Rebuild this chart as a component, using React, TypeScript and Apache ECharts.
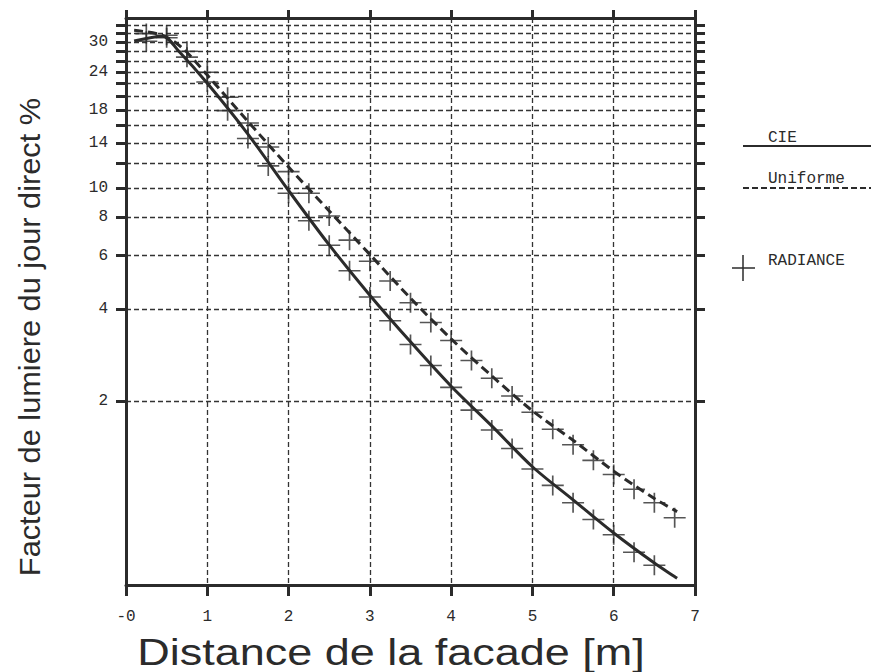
import React, { useEffect, useRef } from "react";
import * as echarts from "echarts";

// ---- data ----
const xTicks = [0, 1, 2, 3, 4, 5, 6, 7];
const yTickValues = [2, 4, 6, 8, 10, 12, 14, 16, 18, 20, 22, 24, 26, 28, 30, 32, 34];
const yLabelValues = [2, 4, 6, 8, 10, 14, 18, 24, 30];
const Y_MIN = 0.5;
const Y_MAX = 36;

// CIE sky (solid line)
const cieX = [0.1, 0.45, 0.65, 1.0, 1.5, 2.0, 2.5, 3.0, 3.5, 4.0, 4.5, 5.0, 5.5, 6.0, 6.5, 6.78];
const cieY = [30.3, 31.4, 28.0, 22.0, 15.0, 9.8, 6.5, 4.45, 3.13, 2.24, 1.66, 1.22, 0.95, 0.74, 0.59, 0.526];

// Uniform sky (dashed line)
const uniX = [0.1, 0.45, 0.7, 1.0, 1.5, 2.0, 2.5, 3.0, 3.5, 4.0, 4.5, 5.0, 5.5, 6.0, 6.5, 6.78];
const uniY = [32.8, 31.6, 28.6, 23.4, 16.5, 11.7, 8.4, 6.05, 4.35, 3.2, 2.42, 1.86, 1.49, 1.18, 0.96, 0.87];

// RADIANCE simulations (crosses)
const radX = [0.25, 0.5, 0.75, 1, 1.25, 1.5, 1.75, 2, 2.25, 2.5, 2.75, 3, 3.25, 3.5, 3.75, 4, 4.25, 4.5, 4.75, 5, 5.25, 5.5, 5.75, 6, 6.25, 6.5, 6.75];
const radCie = [30.2, 31.0, 26.8, 22.2, 17.9, 14.5, 11.8, 9.6, 7.8, 6.49, 5.35, 4.39, 3.67, 3.07, 2.62, 2.22, 1.87, 1.61, 1.4, 1.2, 1.06, 0.93, 0.82, 0.73, 0.64, 0.58];
const radUni = [32.0, 31.6, 28.0, 23.9, 19.8, 16.3, 13.6, 11.3, 9.6, 8.08, 6.74, 5.75, 4.95, 4.2, 3.62, 3.16, 2.72, 2.38, 2.08, 1.84, 1.62, 1.44, 1.28, 1.15, 1.03, 0.93, 0.83];

const INK = "#2b2b2b";
const MONO = "'Liberation Mono', 'DejaVu Sans Mono', monospace";
const SANS = "'Liberation Sans', Arial, sans-serif";
const L = (v: number) => Math.log10(v);
const CROSS = "path://M10,0 L10,20 M0,10 L20,10";

export default function App() {
  const ref = useRef<HTMLDivElement>(null);

  useEffect(() => {
    if (!ref.current) return;
    const chart = echarts.init(ref.current, null, { renderer: "svg" });

    const frameLine = { show: true, onZero: false, lineStyle: { color: INK, width: 3 } };
    const yTick = {
      show: true,
      customValues: yTickValues.map(L),
      length: 10,
      lineStyle: { color: INK, width: 3 },
    };
    const gridDash = { show: true, lineStyle: { color: "#333", width: 1.3, type: [5, 3] as any } };

    const option: any = {
      animation: false,
      backgroundColor: "#ffffff",
      grid: { left: 126, right: 176, top: 18, bottom: 87, containLabel: false },
      xAxis: [
        {
          type: "value",
          min: xTicks[0],
          max: xTicks[xTicks.length - 1],
          interval: 1,
          position: "bottom",
          axisLine: frameLine,
          axisTick: { show: true, length: 11, lineStyle: { color: INK, width: 3 } },
          axisLabel: {
            formatter: (v: number) => (v === 0 ? "-0" : String(v)),
            margin: 24,
            fontFamily: MONO,
            fontSize: 16,
            color: INK,
          },
          splitLine: gridDash,
        },
        {
          type: "value",
          min: xTicks[0],
          max: xTicks[xTicks.length - 1],
          interval: 1,
          position: "top",
          axisLine: frameLine,
          axisTick: { show: true, length: 8, lineStyle: { color: INK, width: 3 } },
          axisLabel: { show: false },
          splitLine: { show: false },
        },
      ],
      yAxis: [
        {
          type: "value",
          min: L(Y_MIN),
          max: L(Y_MAX),
          position: "left",
          axisLine: frameLine,
          axisTick: yTick,
          axisLabel: {
            customValues: yLabelValues.map(L),
            formatter: (v: number) => String(Math.round(Math.pow(10, v))),
            margin: 18,
            fontFamily: MONO,
            fontSize: 16,
            color: INK,
          },
          splitLine: gridDash,
        },
        {
          type: "value",
          min: L(Y_MIN),
          max: L(Y_MAX),
          position: "right",
          axisLine: frameLine,
          axisTick: yTick,
          axisLabel: { show: false },
          splitLine: { show: false },
        },
      ],
      series: [
        {
          name: "CIE",
          type: "line",
          data: cieX.map((x, i) => [x, L(cieY[i])]),
          smooth: 0.3,
          symbol: "none",
          lineStyle: { color: INK, width: 3 },
          z: 3,
        },
        {
          name: "Uniforme",
          type: "line",
          data: uniX.map((x, i) => [x, L(uniY[i])]),
          smooth: 0.3,
          symbol: "none",
          lineStyle: { color: INK, width: 3, type: [9, 5] },
          z: 3,
        },
        {
          name: "RADIANCE CIE",
          type: "scatter",
          data: radCie.map((v, i) => [radX[i], L(v)]),
          symbol: CROSS,
          symbolSize: [22, 20],
          itemStyle: { color: "rgba(0,0,0,0)", borderColor: INK, borderWidth: 1.6 },
          z: 4,
        },
        {
          name: "RADIANCE Uniforme",
          type: "scatter",
          data: radUni.map((v, i) => [radX[i], L(v)]),
          symbol: CROSS,
          symbolSize: [22, 20],
          itemStyle: { color: "rgba(0,0,0,0)", borderColor: INK, borderWidth: 1.6 },
          z: 4,
        },
      ],
      graphic: [
        // legend
        { type: "text", left: 768, top: 130, style: { text: "CIE", font: `16px ${MONO}`, fill: INK } },
        { type: "line", shape: { x1: 743, y1: 146, x2: 871, y2: 146 }, style: { stroke: INK, lineWidth: 2 } },
        { type: "text", left: 768, top: 171, style: { text: "Uniforme", font: `16px ${MONO}`, fill: INK } },
        { type: "line", shape: { x1: 743, y1: 188, x2: 871, y2: 188 }, style: { stroke: INK, lineWidth: 2, lineDash: [6, 3] } },
        { type: "line", shape: { x1: 732, y1: 268, x2: 755, y2: 268 }, style: { stroke: INK, lineWidth: 1.5 } },
        { type: "line", shape: { x1: 743, y1: 255, x2: 743, y2: 281 }, style: { stroke: INK, lineWidth: 1.5 } },
        { type: "text", left: 768, top: 253, style: { text: "RADIANCE", font: `16px ${MONO}`, fill: INK } },
        // axis titles
        {
          type: "text",
          x: 391,
          y: 653,
          scaleX: 1.25,
          style: {
            text: "Distance de la facade [m]",
            font: `36px ${SANS}`,
            fill: INK,
            align: "center",
            verticalAlign: "middle",
          },
        },
        {
          type: "text",
          x: 30,
          y: 337,
          rotation: Math.PI / 2,
          scaleX: 1.06,
          style: {
            text: "Facteur de lumiere du jour direct %",
            font: `29px ${SANS}`,
            fill: INK,
            align: "center",
            verticalAlign: "middle",
          },
        },
      ],
    };

    chart.setOption(option);
    return () => chart.dispose();
  }, []);

  return (
    <div
      ref={ref}
      style={{ position: "absolute", left: 0, top: 0, width: 871, height: 672, background: "#fff" }}
    />
  );
}
